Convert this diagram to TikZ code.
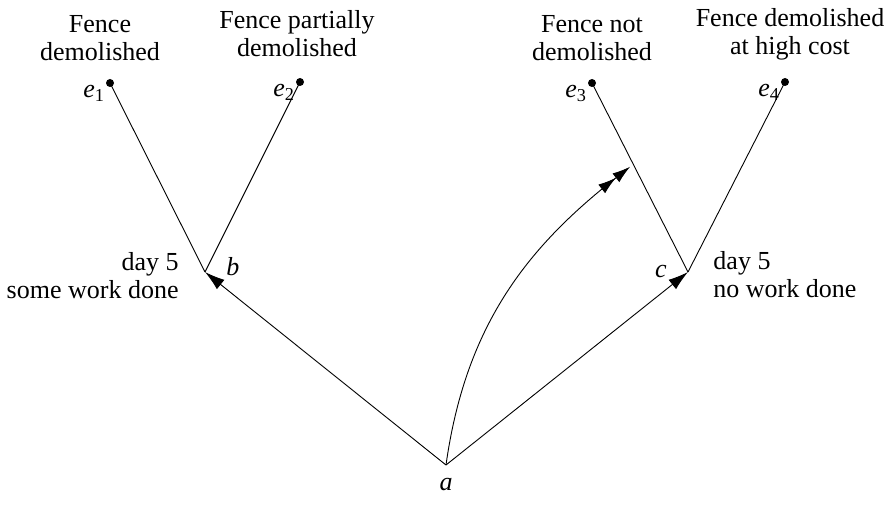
\documentclass[tikz,border=0pt]{standalone}
\usepackage{fontspec}
\setmainfont{Liberation Serif}
\usetikzlibrary{arrows.meta,positioning,calc}

\begin{document}
\begin{tikzpicture}[
    x=1pt, y=-1pt,
    line width=0.9pt,
    font=\fontsize{26}{28}\selectfont,
    node distance=6pt,
    dot/.style={circle, fill, inner sep=0pt, minimum size=8pt},
    outcome/.style={align=center, inner sep=1pt},
    lbl/.style={inner sep=1pt, font=\fontsize{26}{28}\selectfont\itshape},
    arrow/.style={-{Latex[length=20pt,width=12pt]}},
    twoarrow/.style={-{Latex[length=18pt,width=11pt]Latex[length=18pt,width=11pt]}}
]
\useasboundingbox (0,0) rectangle (892,508);
\coordinate (a) at (446,465);
\coordinate (b) at (205,272);
\coordinate (c) at (688,272);
\node[dot] (e1) at (110,83) {};
\node[dot] (e2) at (300,82) {};
\node[dot] (e3) at (592,83) {};
\node[dot] (e4) at (785,82) {};
\coordinate (hit) at ($(e3)!0.43!(c)$);
% branches
\draw[arrow] (a) -- (b);
\draw[arrow] (a) -- (c);
\draw (b) -- (e1.center);
\draw (b) -- (e2.center);
\draw (c) -- (e3.center);
\draw (c) -- (e4.center);
\draw[twoarrow, shorten >=4pt] (a) to[out=82, in=218] (hit);
% labels
\node[lbl, below=12pt of a] (alab) {a};
\node[lbl, right=20pt of b, yshift=5pt] (blab) {b};
\node[lbl, left=20pt of c] (clab) {c};
\node[lbl, below left=-2pt and 1pt of e1] {e\textsubscript{\upshape 1}};
\node[lbl, below left=-2pt and 1pt of e2] {e\textsubscript{\upshape 2}};
\node[lbl, below left=-2pt and 1pt of e3] {e\textsubscript{\upshape 3}};
\node[lbl, below left=-2pt and 1pt of e4] {e\textsubscript{\upshape 4}};
\node[outcome, above=16pt of e1, xshift=-10pt] (o1) {Fence\\demolished};
\node[outcome, above=16pt of e2, xshift=-3pt, yshift=3pt] (o2) {Fence partially\\demolished};
\node[outcome, above=16pt of e3] (o3) {Fence not\\demolished};
\node[outcome, above=16pt of e4, xshift=5pt] (o4) {Fence demolished\\at high cost};
\node[outcome, align=right, left=25pt of b, yshift=-4pt] (dayb) {day 5\\some work done};
\node[outcome, align=left, right=24pt of c, yshift=-3pt] (dayc) {day 5\\no work done};
\end{tikzpicture}
\end{document}
